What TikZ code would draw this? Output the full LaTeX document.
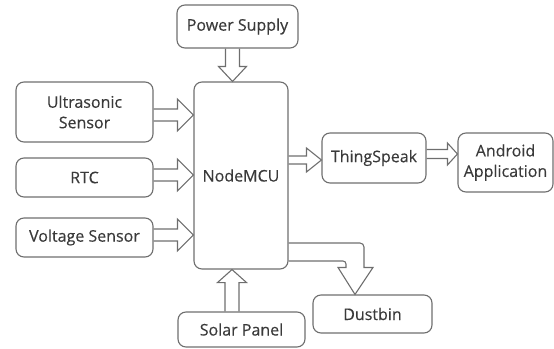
\documentclass[tikz,border=0pt]{standalone}
\usepackage{fontspec}
\setmainfont{Open Sans}
\newfontfamily\boxfont{Open Sans}[BoldFont={Open Sans}, BoldFeatures={FakeBold=0.35}]
\usetikzlibrary{calc}
\definecolor{linegray}{HTML}{6E6E6E}
\definecolor{textgray}{HTML}{3A3A3A}
\newcommand\hblk[5]{%
  \draw[blk] let \p1=#1, \p2=#2 in
    (\x1,\y1+#3) -- (\x2-#5,\y1+#3) -- (\x2-#5,\y1+#4) -- (\x2,\y1)
    -- (\x2-#5,\y1-#4) -- (\x2-#5,\y1-#3) -- (\x1,\y1-#3);}
\newcommand\vblkdown[5]{%
  \draw[blk] let \p1=#1, \p2=#2 in
    (\x1-#3,\y1) -- (\x1-#3,\y2+#5) -- (\x1-#4,\y2+#5) -- (\x1,\y2)
    -- (\x1+#4,\y2+#5) -- (\x1+#3,\y2+#5) -- (\x1+#3,\y1);}
\newcommand\vblkup[5]{%
  \draw[blk] let \p1=#1, \p2=#2 in
    (\x1-#3,\y1) -- (\x1-#3,\y2-#5) -- (\x1-#4,\y2-#5) -- (\x1,\y2)
    -- (\x1+#4,\y2-#5) -- (\x1+#3,\y2-#5) -- (\x1+#3,\y1);}
\begin{document}
\begin{tikzpicture}[x=1pt,y=-1pt,
  box/.style={draw=linegray, line width=1.1pt, rounded corners=8pt, inner sep=0pt,
    text=textgray, align=center, font=\boxfont\bfseries\fontsize{16}{20.5}\selectfont},
  blk/.style={draw=linegray, line width=1.1pt, line join=miter}]
\useasboundingbox (0,0) rectangle (554,348);
\node[box, minimum width=121pt, minimum height=43pt] (ps) at (237.5,26.5) {Power Supply};
\node[box, minimum width=137pt, minimum height=60pt] (us) at (84.5,112) {Ultrasonic\\Sensor};
\node[box, minimum width=137pt, minimum height=39pt] (rtc) at (84.5,177.5) {RTC};
\node[box, minimum width=137pt, minimum height=39pt] (vs) at (84.5,237.5) {Voltage Sensor};
\node[box, minimum width=94pt, minimum height=187pt] (mcu) at (241,175.5) {NodeMCU};
\node[box, minimum width=104pt, minimum height=50pt] (ts) at (374,158) {ThingSpeak};
\node[box, minimum width=95pt, minimum height=59pt] (aa) at (505.5,162.5) {Android\\Application};
\node[box, minimum width=119pt, minimum height=38pt] (db) at (372.5,314) {Dustbin};
\node[box, minimum width=127pt, minimum height=35pt] (sp) at (241.5,329.5) {Solar Panel};
% block arrows
\hblk{(us.east |- 0,115)}{(mcu.west |- 0,115)}{6pt}{16pt}{16pt}
\hblk{(rtc.east |- 0,175)}{(mcu.west |- 0,175)}{6pt}{16pt}{16pt}
\hblk{(vs.east |- 0,235)}{(mcu.west |- 0,235)}{6pt}{16pt}{16pt}
\hblk{(mcu.east |- 0,160)}{(ts.west |- 0,160)}{4pt}{12pt}{15pt}
\hblk{(ts.east |- 0,154)}{(aa.west |- 0,154)}{4.5pt}{11pt}{10pt}
\vblkdown{(232.5,0 |- ps.south)}{(232.5,0 |- mcu.north)}{7pt}{14pt}{15pt}
\vblkup{(232,0 |- sp.north)}{(232,0 |- mcu.south)}{7pt}{14.5pt}{13pt}
\draw[blk] let \p1=(mcu.east |- 0,243), \p2=(355,0 |- db.north) in
  (\p1) [rounded corners=4pt] -- (\x2+9pt,\y1) [sharp corners] -- (\x2+9pt,\y2+27pt)
  -- (\x2+18pt,\y2+27pt) -- (\p2) -- (\x2-17pt,\y2+27pt) -- (\x2-9pt,\y2+27pt)
  [rounded corners=3pt] -- (\x2-9pt,\y1-18pt) [sharp corners] -- (\x1,\y1-18pt);
\end{tikzpicture}
\end{document}
